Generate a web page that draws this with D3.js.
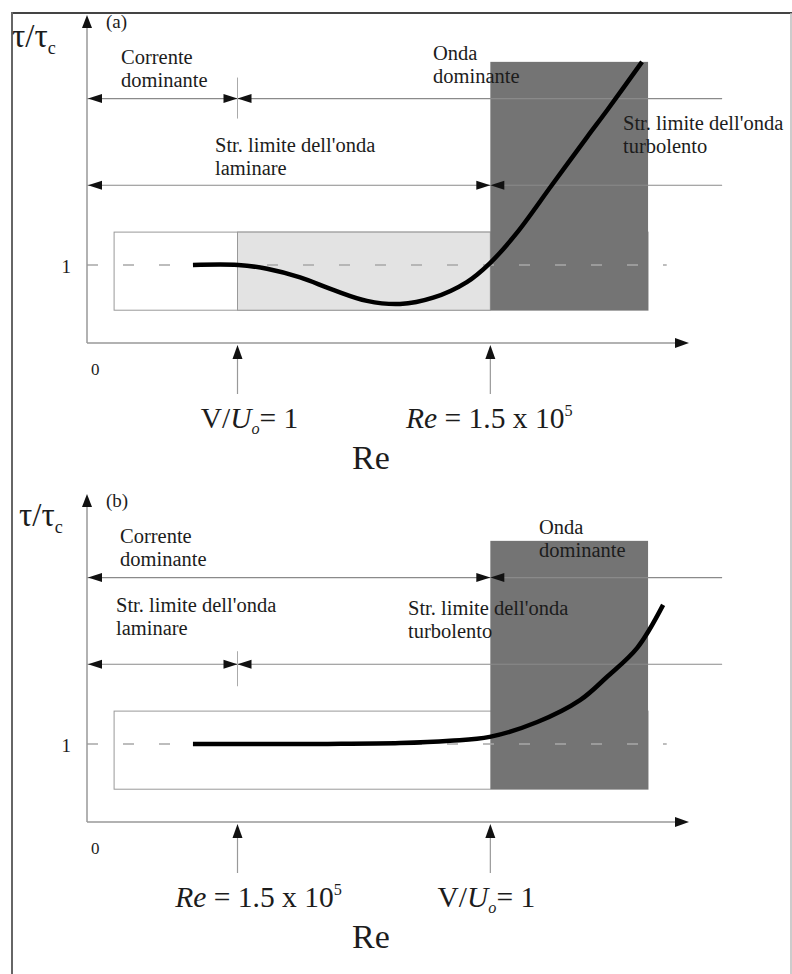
<!DOCTYPE html>
<html lang="it">
<head>
<meta charset="UTF-8">
<title>tau/tau_c vs Re</title>
<script src="https://d3js.org/d3.v7.min.js"></script>
<style>
  body { margin: 0; background: #fff; }
  svg { display: block; }
  text { font-family: "Liberation Serif", "Times New Roman", serif; fill: #1c1c1c; }
</style>
</head>
<body>
<svg width="792" height="974"></svg>
<script>
// values (arbitrary units: Re along x, tau/tau_c along y)
const reDomain = [0, 100];
const tauDomain = [0, 4.2];
const markers = [25, 67];            // V/U0 = 1 and Re = 1.5e5
const boxSpan = [4.5, 93.2];
const boxTau = [0.42, 1.42];
const darkTop = 3.6;
const bandEnd = 105.5;
const dashEnd = 96.3;
const bandTau = [3.13, 2.02];

const curveA_re  = [17.6, 25.1, 29.9, 35.4, 40.9, 46.5, 52.0, 57.5, 63.1, 66.9, 71.4, 77.2, 83.1, 86.4, 92.2];
const curveA_tau = [1.0, 1.0, 0.95, 0.84, 0.68, 0.54, 0.50, 0.58, 0.78, 1.02, 1.41, 2.02, 2.64, 2.98, 3.6];
const curveB_re  = [17.6, 40.0, 52.0, 60.3, 66.9, 74.8, 81.9, 86.4, 91.4, 95.7];
const curveB_tau = [1.0, 1.0, 1.01, 1.04, 1.09, 1.28, 1.56, 1.86, 2.23, 2.78];

const vLabel = [{t: "V/"}, {t: "U", i: 1}, {t: "o", i: 1, sub: 1}, {t: "= 1"}];
const reLabel = [{t: "Re", i: 1}, {t: " = 1.5 x 10"}, {t: "5", sup: 1}];

const svg = d3.select("svg");
const x = d3.scaleLinear().domain(reDomain).range([87, 689]);
const y = d3.scaleLinear().domain(tauDomain).range([343, 15]);

// frame
svg.append("line").attr("x1", 11).attr("x2", 792).attr("y1", 13).attr("y2", 13)
    .attr("stroke", "#444").attr("stroke-width", 2);
svg.append("line").attr("x1", 12).attr("x2", 12).attr("y1", 12).attr("y2", 974)
    .attr("stroke", "#666").attr("stroke-width", 2);
svg.append("line").attr("x1", 791).attr("x2", 791).attr("y1", 13).attr("y2", 974)
    .attr("stroke", "#bbb").attr("stroke-width", 1.5);

function txt(g, px, py, parts, size, anchor) {
    const t = g.append("text")
        .attr("x", px).attr("y", py)
        .attr("font-size", size)
        .attr("text-anchor", anchor || "start");
    let shift = 0;
    parts.forEach(p => {
        const s = t.append("tspan").text(p.t);
        let want = 0;
        if (p.sub) { s.attr("font-size", size * 0.55); want = size * 0.22; }
        if (p.sup) { s.attr("font-size", size * 0.55); want = -size * 0.42; }
        if (p.i) s.attr("font-style", "italic");
        if (want !== shift) { s.attr("dy", want - shift); shift = want; }
    });
    return t;
}

// two-line note kept in one text element
function note(g, px, py, arr, size, gap) {
    const t = g.append("text").attr("font-size", size);
    arr.forEach((l, i) => t.append("tspan").attr("x", px).attr("y", py + i * gap).text(l));
}

function tri(g, tx, ty, dir, len, half) {
    let pts;
    if (dir === "left") pts = [[tx, ty], [tx + len, ty - half], [tx + len, ty + half]];
    if (dir === "right") pts = [[tx, ty], [tx - len, ty - half], [tx - len, ty + half]];
    if (dir === "up") pts = [[tx, ty], [tx - half, ty + len], [tx + half, ty + len]];
    g.append("path").attr("d", "M" + pts.join("L") + "Z").attr("fill", "#111");
}

function band(g, tau, split, tick) {
    const yy = y(tau);
    g.append("line").attr("x1", x(0)).attr("x2", x(bandEnd)).attr("y1", yy).attr("y2", yy)
        .attr("stroke", "#8a8a8a").attr("stroke-width", 1.2);
    tri(g, x(0) + 1, yy, "left", 14, 4.5);
    tri(g, x(split), yy, "right", 14, 4.5);
    tri(g, x(split), yy, "left", 14, 4.5);
    if (tick) {
        g.append("line").attr("x1", x(split)).attr("x2", x(split))
            .attr("y1", yy - tick[0]).attr("y2", yy + tick[1])
            .attr("stroke", "#aaa").attr("stroke-width", 1);
    }
}

function panel(cfg) {
    const g = svg.append("g").attr("transform", `translate(0,${cfg.dy})`);

    // regions
    g.append("rect").attr("x", x(boxSpan[0])).attr("y", y(boxTau[1]))
        .attr("width", x(boxSpan[1]) - x(boxSpan[0])).attr("height", y(boxTau[0]) - y(boxTau[1]))
        .attr("fill", "#fff").attr("stroke", "#999").attr("stroke-width", 1);
    if (cfg.light) {
        g.append("rect").attr("x", x(markers[0])).attr("y", y(boxTau[1]))
            .attr("width", x(markers[1]) - x(markers[0])).attr("height", y(boxTau[0]) - y(boxTau[1]))
            .attr("fill", "#e3e3e3").attr("stroke", "#999").attr("stroke-width", 1);
    }
    g.append("rect").attr("x", x(markers[1])).attr("y", y(darkTop))
        .attr("width", x(boxSpan[1]) - x(markers[1])).attr("height", y(boxTau[0]) - y(darkTop))
        .attr("fill", "#747474");

    // tau/tau_c = 1 reference
    g.append("line").attr("x1", x(0)).attr("x2", x(dashEnd)).attr("y1", y(1)).attr("y2", y(1))
        .attr("stroke", "#a8a8a8").attr("stroke-width", 1.5).attr("stroke-dasharray", "11 25");

    band(g, bandTau[0], cfg.split[0], cfg.tick[0]);
    band(g, bandTau[1], cfg.split[1], cfg.tick[1]);

    const pts = cfg.re.map((r, i) => [r, cfg.tau[i]]);
    g.append("path").datum(pts)
        .attr("d", d3.line().x(d => x(d[0])).y(d => y(d[1])).curve(d3.curveCatmullRom.alpha(0.5)))
        .attr("fill", "none").attr("stroke", "#000").attr("stroke-width", 4.5);

    // axes
    g.append("line").attr("x1", x(0)).attr("x2", x(0)).attr("y1", y(0)).attr("y2", y(tauDomain[1]) + 12)
        .attr("stroke", "#999").attr("stroke-width", 1.5);
    tri(g, x(0), y(tauDomain[1]), "up", 13, 5);
    g.append("line").attr("x1", x(0)).attr("x2", x(reDomain[1]) - 12).attr("y1", y(0)).attr("y2", y(0))
        .attr("stroke", "#999").attr("stroke-width", 1.5);
    tri(g, x(reDomain[1]), y(0), "left", -14, 5);

    markers.forEach(m => {
        g.append("line").attr("x1", x(m)).attr("x2", x(m)).attr("y1", y(0) + 12).attr("y2", y(0) + 51)
            .attr("stroke", "#999").attr("stroke-width", 1.2);
        tri(g, x(m), y(0) + 2, "up", 14, 5);
    });

    // text
    txt(g, 71, y(1) + 8, [{t: "1"}], 19, "end");
    txt(g, 91, y(0) + 32, [{t: "0"}], 17);
    txt(g, 106, 28, [{t: cfg.name}], 19);
    txt(g, cfg.tauX, 47, [{t: "τ/τ"}, {t: "c", sub: 1}], 33);
    cfg.notes.forEach(n => note(g, n[0], n[1] - 1, n[2], 20.5, 23));
    txt(g, x(markers[0]) + cfg.lab[0], 428, cfg.bottom[0], 29.5, "middle");
    txt(g, x(markers[1]) + cfg.lab[1], 428, cfg.bottom[1], 29.5, "middle");
    txt(g, 371, 469, [{t: "Re"}], 34, "middle");
}

panel({
    dy: 0, name: "(a)", tauX: 12, light: true,
    re: curveA_re, tau: curveA_tau,
    split: [markers[0], markers[1]], tick: [[21, 20], null],
    bottom: [vLabel, reLabel], lab: [12, -1],
    notes: [
        [121, 65, ["Corrente", "dominante"]],
        [215, 153, ["Str. limite dell'onda", "laminare"]],
        [433, 61, ["Onda", "dominante"]],
        [623, 131, ["Str. limite dell'onda", "turbolento"]]
    ]
});

panel({
    dy: 479, name: "(b)", tauX: 19, light: false,
    re: curveB_re, tau: curveB_tau,
    split: [markers[1], markers[0]], tick: [null, [13, 22]],
    bottom: [reLabel, vLabel], lab: [21, -4],
    notes: [
        [120, 65, ["Corrente", "dominante"]],
        [116, 134, ["Str. limite dell'onda", "laminare"]],
        [408, 137, ["Str. limite dell'onda", "turbolento"]],
        [539, 56, ["Onda", "dominante"]]
    ]
});
</script>
</body>
</html>
